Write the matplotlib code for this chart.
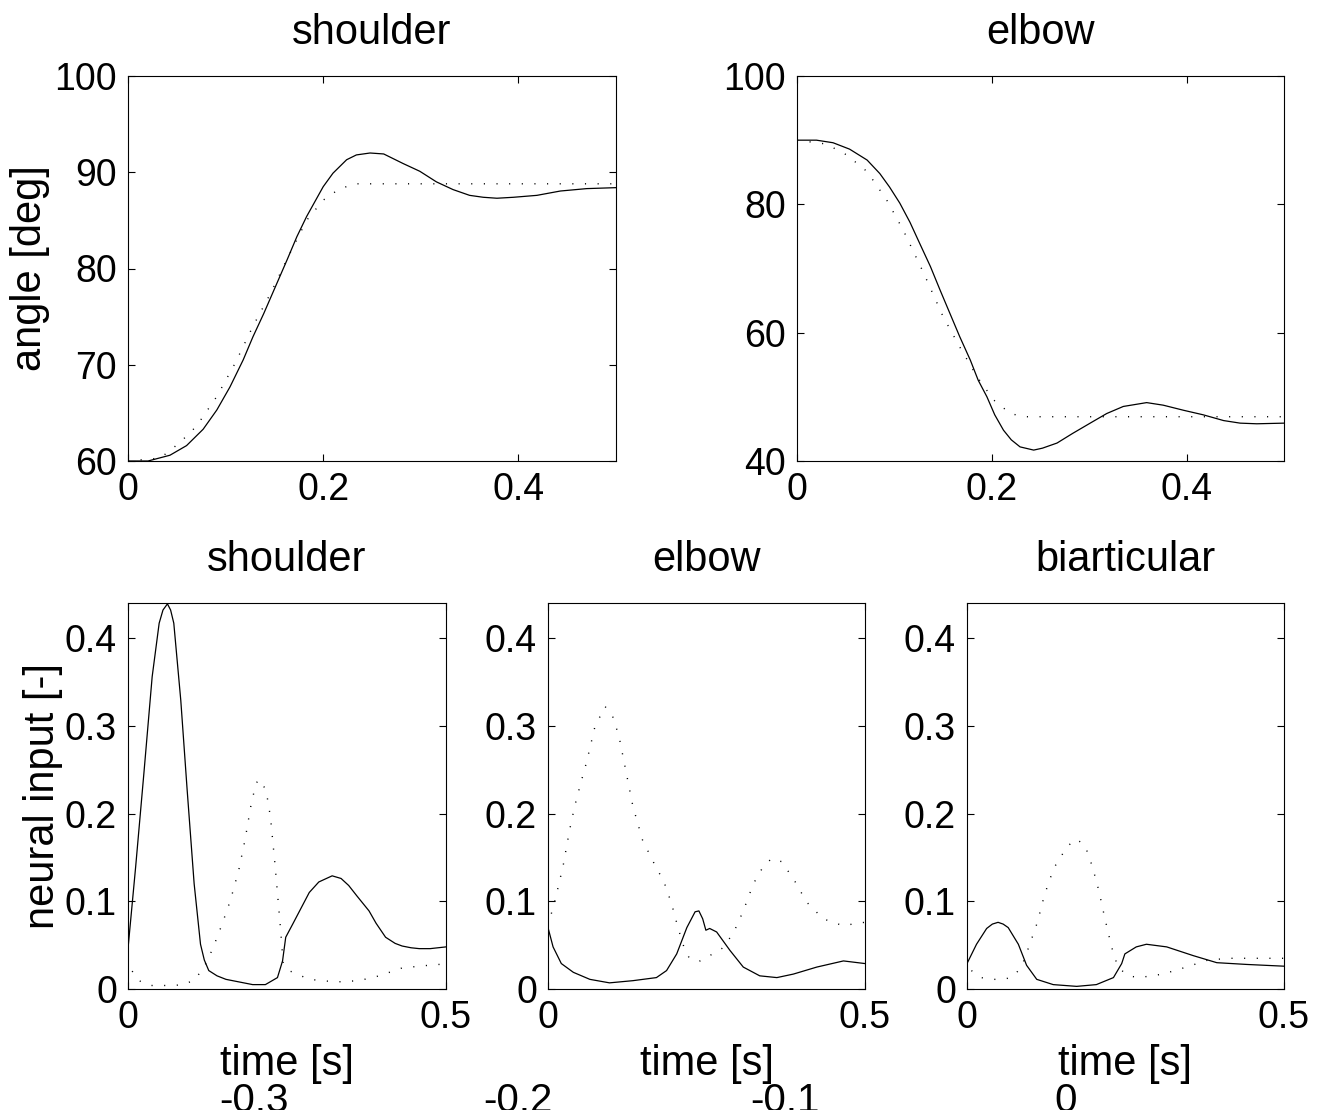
import matplotlib
matplotlib.use('Agg')
import matplotlib.pyplot as plt

plt.rcParams['font.family'] = ['Liberation Sans', 'DejaVu Sans']

# ---- joint angles (top row) ----
sh_t = [0, 0.0205, 0.043, 0.060, 0.077, 0.091, 0.1045, 0.118, 0.128, 0.139, 0.151,
        0.163, 0.173, 0.183, 0.200, 0.210, 0.224, 0.234, 0.248, 0.262, 0.282,
        0.299, 0.316, 0.333, 0.350, 0.364, 0.378, 0.395, 0.419, 0.443, 0.470, 0.5]
sh_ang = [60.0, 60.0, 60.6, 61.6, 63.3, 65.3, 67.7, 70.5, 72.9, 75.3, 78.1,
          80.9, 83.3, 85.4, 88.5, 89.9, 91.3, 91.8, 92.0, 91.9, 90.9,
          90.1, 89.0, 88.2, 87.6, 87.4, 87.3, 87.4, 87.6, 88.05, 88.3, 88.4]
sh_ref_t = [0, 0.033, 0.053, 0.070, 0.091, 0.110, 0.128, 0.146, 0.166, 0.183, 0.200,
            0.217, 0.234, 0.5]
sh_ref = [60.0, 60.3, 61.9, 63.6, 66.7, 70.2, 74.0, 77.4, 81.6, 85.0, 87.1,
          88.3, 88.8, 88.8]

el_t = [0, 0.020, 0.037, 0.054, 0.072, 0.085, 0.095, 0.1055, 0.116, 0.126, 0.137,
        0.147, 0.157, 0.167, 0.178, 0.186, 0.195, 0.203, 0.212, 0.220, 0.229,
        0.243, 0.252, 0.267, 0.283, 0.301, 0.318, 0.335, 0.359, 0.376, 0.397,
        0.417, 0.438, 0.455, 0.472, 0.5]
el_ang = [90.0, 90.0, 89.6, 88.6, 86.9, 84.8, 82.7, 80.2, 77.2, 73.9, 70.3,
          66.6, 63.0, 59.4, 55.7, 52.6, 50.0, 47.2, 44.8, 43.3, 42.2,
          41.7, 42.0, 42.8, 44.3, 45.9, 47.4, 48.5, 49.1, 48.7, 47.9,
          47.2, 46.3, 45.9, 45.8, 45.9]
el_ref_t = [0, 0.030, 0.051, 0.072, 0.092, 0.109, 0.130, 0.150, 0.167, 0.185, 0.202,
            0.219, 0.233, 0.5]
el_ref = [90.0, 89.4, 87.7, 85.1, 80.7, 76.0, 69.3, 62.5, 57.8, 53.1, 49.5,
          47.4, 46.9, 46.9]

# ---- neural inputs (bottom row) ----
nsh_t = [0, 0.012, 0.025, 0.038, 0.049, 0.055, 0.062, 0.067, 0.072, 0.083, 0.093,
         0.104, 0.114, 0.120, 0.127, 0.140, 0.154, 0.196, 0.216, 0.235, 0.243,
         0.248, 0.259, 0.285, 0.300, 0.321, 0.335, 0.347, 0.360, 0.379, 0.390,
         0.405, 0.420, 0.431, 0.445, 0.458, 0.475, 0.5]
nsh_u = [0.046, 0.139, 0.246, 0.356, 0.417, 0.432, 0.439, 0.432, 0.417, 0.329, 0.227,
         0.120, 0.051, 0.033, 0.021, 0.015, 0.011, 0.005, 0.005, 0.013, 0.032,
         0.059, 0.074, 0.110, 0.122, 0.129, 0.126, 0.118, 0.106, 0.089, 0.075,
         0.059, 0.052, 0.049, 0.047, 0.046, 0.046, 0.048]
nsh_dt = [0, 0.006, 0.017, 0.036, 0.070, 0.088, 0.106, 0.125, 0.138, 0.148, 0.161,
          0.174, 0.184, 0.193, 0.201, 0.206, 0.217, 0.224, 0.231, 0.236, 0.240,
          0.244, 0.253, 0.285, 0.327, 0.363, 0.395, 0.431, 0.486, 0.5]
nsh_d = [0.034, 0.021, 0.0095, 0.004, 0.004, 0.005, 0.011, 0.032, 0.055, 0.074, 0.101,
         0.135, 0.170, 0.208, 0.234, 0.239, 0.227, 0.196, 0.143, 0.101, 0.067,
         0.029, 0.021, 0.011, 0.008, 0.0095, 0.015, 0.024, 0.028, 0.028]

nel_t = [0, 0.008, 0.021, 0.040, 0.066, 0.097, 0.134, 0.171, 0.187, 0.203, 0.219,
         0.232, 0.238, 0.244, 0.249, 0.255, 0.266, 0.287, 0.308, 0.334, 0.361,
         0.387, 0.424, 0.466, 0.5]
nel_u = [0.070, 0.048, 0.029, 0.019, 0.011, 0.007, 0.0095, 0.013, 0.021, 0.040, 0.070,
         0.088, 0.089, 0.080, 0.067, 0.069, 0.065, 0.044, 0.025, 0.015, 0.013,
         0.017, 0.025, 0.032, 0.029]
nel_dt = [0, 0.003, 0.011, 0.016, 0.024, 0.034, 0.042, 0.051, 0.061, 0.074, 0.090,
          0.101, 0.112, 0.123, 0.134, 0.149, 0.166, 0.183, 0.195, 0.205, 0.216,
          0.224, 0.240, 0.255, 0.274, 0.292, 0.308, 0.324, 0.339, 0.353, 0.369,
          0.390, 0.408, 0.434, 0.466, 0.487, 0.5]
nel_d = [0.072, 0.080, 0.101, 0.116, 0.141, 0.181, 0.208, 0.233, 0.259, 0.299, 0.322,
         0.313, 0.288, 0.248, 0.208, 0.170, 0.145, 0.122, 0.097, 0.070, 0.044,
         0.034, 0.032, 0.038, 0.046, 0.063, 0.089, 0.120, 0.139, 0.149, 0.145,
         0.122, 0.099, 0.080, 0.072, 0.075, 0.076]

nbi_t = [0, 0.015, 0.031, 0.040, 0.049, 0.057, 0.065, 0.081, 0.094, 0.110, 0.136,
         0.173, 0.204, 0.231, 0.244, 0.249, 0.267, 0.283, 0.315, 0.357, 0.394,
         0.441, 0.5]
nbi_u = [0.029, 0.051, 0.069, 0.074, 0.076, 0.074, 0.070, 0.051, 0.027, 0.011, 0.005,
         0.003, 0.005, 0.013, 0.029, 0.040, 0.048, 0.051, 0.048, 0.038, 0.030,
         0.028, 0.026]
nbi_dt = [0.007, 0.022, 0.041, 0.059, 0.075, 0.088, 0.099, 0.111, 0.120, 0.128, 0.138,
          0.149, 0.159, 0.172, 0.186, 0.198, 0.208, 0.217, 0.228, 0.238, 0.254,
          0.272, 0.309, 0.346, 0.380, 0.414, 0.488, 0.5]
nbi_d = [0.021, 0.013, 0.011, 0.011, 0.015, 0.029, 0.051, 0.076, 0.101, 0.120, 0.139,
         0.152, 0.163, 0.171, 0.164, 0.139, 0.112, 0.082, 0.048, 0.025, 0.015,
         0.013, 0.017, 0.025, 0.033, 0.035, 0.035, 0.035]

stray_labels = ['-0.3', '-0.2', '-0.1', '0']
stray_x = [254, 518, 785, 1066]

FS = 27      # tick labels
LFS = 30     # titles and axis labels
W, H = 1323, 1110
fig = plt.figure(figsize=(W / 100, H / 100), dpi=100)


def box(l, t, r, b):
    return [l / W, 1 - b / H, (r - l) / W, (b - t) / H]


def style(ax):
    ax.tick_params(direction='in', length=5, width=0.8, top=True, right=True,
                   labelsize=FS, pad=8)
    for s in ax.spines.values():
        s.set_linewidth(0.8)


dot = (0, (0.8, 8.3))

ax1 = fig.add_axes(box(128, 76, 616, 461))
ax1.plot(sh_t, sh_ang, color='black', lw=0.9)
ax1.plot(sh_ref_t, sh_ref, color='black', lw=1.0, linestyle=dot)
ax1.set_xlim(0, 0.5)
ax1.set_ylim(60, 100)
ax1.set_xticks([0, 0.2, 0.4])
ax1.set_xticklabels(['0', '0.2', '0.4'])
ax1.set_yticks([60, 70, 80, 90, 100])
ax1.set_title('shoulder', fontsize=LFS, pad=23)
ax1.set_ylabel('angle [deg]', fontsize=LFS, labelpad=3)
style(ax1)

ax2 = fig.add_axes(box(797, 76, 1284, 461))
ax2.plot(el_t, el_ang, color='black', lw=0.9)
ax2.plot(el_ref_t, el_ref, color='black', lw=1.0, linestyle=dot)
ax2.set_xlim(0, 0.5)
ax2.set_ylim(40, 100)
ax2.set_xticks([0, 0.2, 0.4])
ax2.set_xticklabels(['0', '0.2', '0.4'])
ax2.set_yticks([40, 60, 80, 100])
ax2.set_title('elbow', fontsize=LFS, pad=23)
style(ax2)

bottom = [
    (box(128, 603, 446, 989), 'shoulder', nsh_t, nsh_u, nsh_dt, nsh_d),
    (box(548, 603, 865, 989), 'elbow', nel_t, nel_u, nel_dt, nel_d),
    (box(967, 603, 1284, 989), 'biarticular', nbi_t, nbi_u, nbi_dt, nbi_d),
]
for i, (pos, name, t, u, dt, d) in enumerate(bottom):
    ax = fig.add_axes(pos)
    ax.plot(t, u, color='black', lw=0.9)
    ax.plot(dt, d, color='black', lw=1.0, linestyle=dot)
    ax.set_xlim(0, 0.5)
    ax.set_ylim(0, 0.44)
    ax.set_xticks([0, 0.5])
    ax.set_xticklabels(['0', '0.5'])
    ax.set_yticks([0, 0.1, 0.2, 0.3, 0.4])
    ax.set_yticklabels(['0', '0.1', '0.2', '0.3', '0.4'])
    ax.set_title(name, fontsize=LFS, pad=23)
    ax.set_xlabel('time [s]', fontsize=LFS, labelpad=6)
    if i == 0:
        ax.set_ylabel('neural input [-]', fontsize=LFS, labelpad=1)
    style(ax)

# stray tick labels, cut off at the bottom edge as in the original figure
for lab, x in zip(stray_labels, stray_x):
    fig.text(x / W, 1 - 1112 / H, lab, fontsize=29, ha='center', va='baseline')

fig.savefig('out.png', dpi=100)
